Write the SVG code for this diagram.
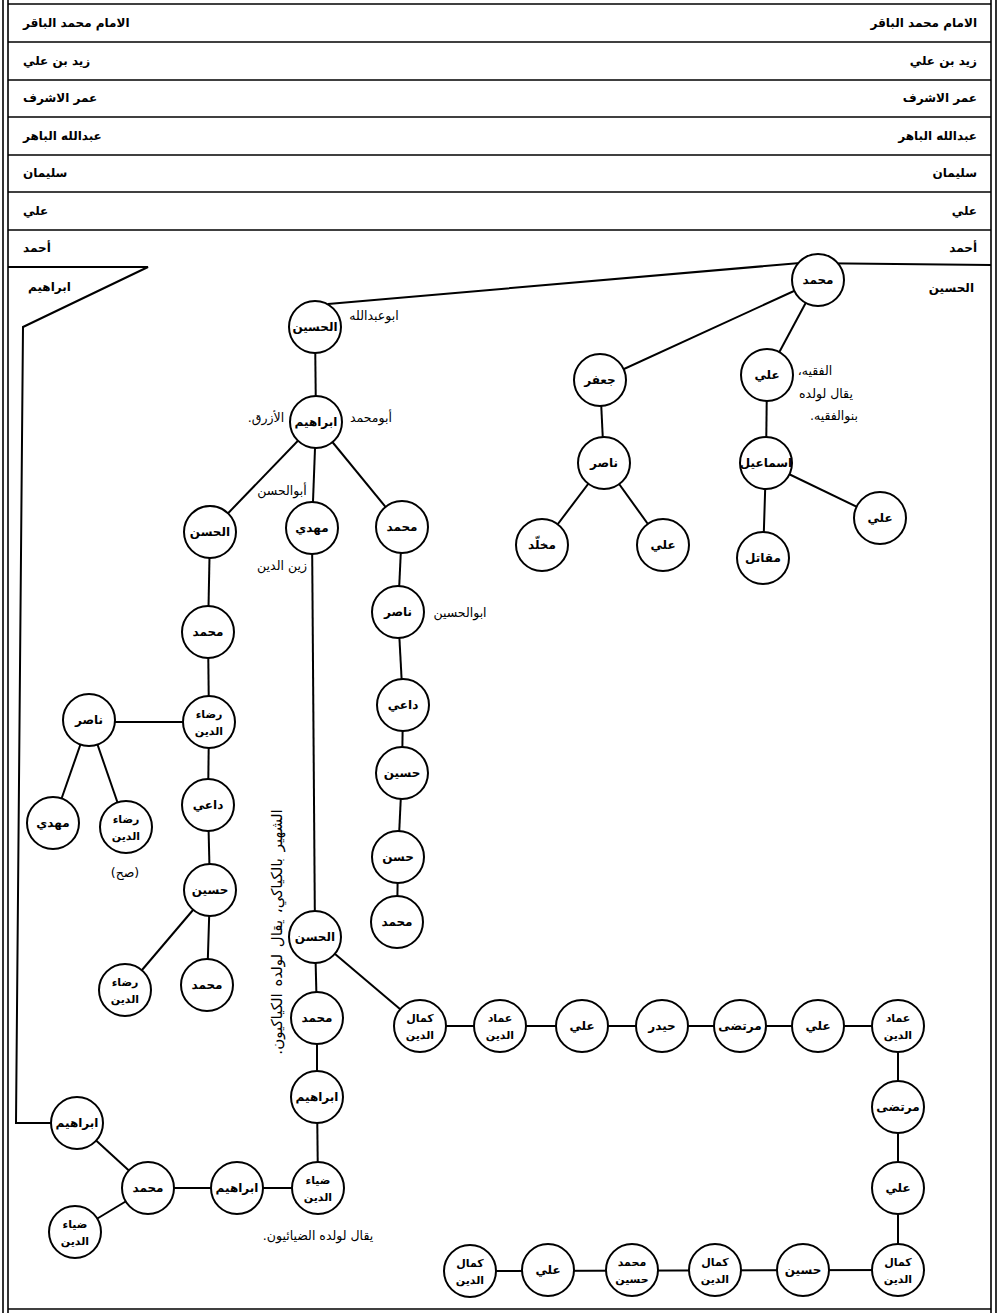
<svg xmlns="http://www.w3.org/2000/svg" width="999" height="1313" viewBox="0 0 999 1313">
<style>
.c{fill:#fff;stroke:#000;stroke-width:2}
.e{stroke:#000;stroke-width:2;fill:none}
.f{stroke:#000;stroke-width:1.6;fill:none}
.t{font-family:"DejaVu Sans",sans-serif;font-size:12px;font-weight:bold;text-anchor:middle;fill:#000}
.t2{font-family:"DejaVu Sans",sans-serif;font-size:11px;font-weight:bold;text-anchor:middle;fill:#000}
.h{font-family:"DejaVu Sans",sans-serif;font-size:12px;font-weight:bold;fill:#000}
.n{font-family:"DejaVu Sans",sans-serif;font-size:12.5px;fill:#000;text-anchor:middle;direction:rtl}
</style>
<rect width="999" height="1313" fill="#fff"/>
<g id="frame">
<line class="f" x1="3" y1="0" x2="3" y2="1313"/>
<line class="f" x1="8" y1="0" x2="8" y2="1313"/>
<line class="f" x1="991" y1="0" x2="991" y2="1313"/>
<line class="f" x1="996" y1="0" x2="996" y2="1313"/>
<line class="f" x1="8" y1="4" x2="991" y2="4"/>
<line class="f" x1="8" y1="42" x2="991" y2="42"/>
<line class="f" x1="8" y1="80" x2="991" y2="80"/>
<line class="f" x1="8" y1="117" x2="991" y2="117"/>
<line class="f" x1="8" y1="155" x2="991" y2="155"/>
<line class="f" x1="8" y1="192" x2="991" y2="192"/>
<line class="f" x1="8" y1="230" x2="991" y2="230"/>
<line class="f" x1="8" y1="1309" x2="991" y2="1309"/>
</g>
<g id="rows">
<text class="h" x="23" y="27">الامام محمد الباقر</text>
<text class="h" x="977" y="27" text-anchor="end">الامام محمد الباقر</text>
<text class="h" x="23" y="65">زيد بن علي</text>
<text class="h" x="977" y="65" text-anchor="end">زيد بن علي</text>
<text class="h" x="23" y="102">عمر الاشرف</text>
<text class="h" x="977" y="102" text-anchor="end">عمر الاشرف</text>
<text class="h" x="23" y="140">عبدالله الباهر</text>
<text class="h" x="977" y="140" text-anchor="end">عبدالله الباهر</text>
<text class="h" x="23" y="177">سليمان</text>
<text class="h" x="977" y="177" text-anchor="end">سليمان</text>
<text class="h" x="23" y="215">علي</text>
<text class="h" x="977" y="215" text-anchor="end">علي</text>
<text class="h" x="23" y="252">أحمد</text>
<text class="h" x="977" y="252" text-anchor="end">أحمد</text>
<text class="h" x="28" y="291">ابراهيم</text>
<text class="h" x="974" y="292" text-anchor="end">الحسين</text>
</g>
<g id="connectors">
<polyline class="e" points="991,265 800,263 328,304"/>
<polyline class="e" points="8,267 148,267 23,327 16,1123 77,1123"/>
<line class="e" x1="818" y1="280" x2="600" y2="380"/>
<line class="e" x1="818" y1="280" x2="767" y2="375"/>
<line class="e" x1="600" y1="380" x2="604" y2="463"/>
<line class="e" x1="767" y1="375" x2="766" y2="463"/>
<line class="e" x1="604" y1="463" x2="542" y2="545"/>
<line class="e" x1="604" y1="463" x2="663" y2="545"/>
<line class="e" x1="766" y1="463" x2="763" y2="558"/>
<line class="e" x1="766" y1="463" x2="880" y2="518"/>
<line class="e" x1="315" y1="327" x2="316" y2="422"/>
<line class="e" x1="316" y1="422" x2="210" y2="532"/>
<line class="e" x1="316" y1="422" x2="312" y2="528"/>
<line class="e" x1="316" y1="422" x2="402" y2="527"/>
<line class="e" x1="402" y1="527" x2="398" y2="612"/>
<line class="e" x1="398" y1="612" x2="403" y2="705"/>
<line class="e" x1="403" y1="705" x2="402" y2="773"/>
<line class="e" x1="402" y1="773" x2="398" y2="857"/>
<line class="e" x1="398" y1="857" x2="397" y2="922"/>
<line class="e" x1="210" y1="532" x2="208" y2="632"/>
<line class="e" x1="208" y1="632" x2="209" y2="722"/>
<line class="e" x1="209" y1="722" x2="89" y2="722"/>
<line class="e" x1="89" y1="720" x2="53" y2="823"/>
<line class="e" x1="89" y1="720" x2="126" y2="827"/>
<line class="e" x1="209" y1="722" x2="208" y2="805"/>
<line class="e" x1="208" y1="805" x2="210" y2="890"/>
<line class="e" x1="210" y1="890" x2="125" y2="990"/>
<line class="e" x1="210" y1="890" x2="207" y2="985"/>
<line class="e" x1="312" y1="528" x2="315" y2="937"/>
<line class="e" x1="315" y1="937" x2="317" y2="1018"/>
<line class="e" x1="317" y1="1018" x2="317" y2="1097"/>
<line class="e" x1="317" y1="1097" x2="318" y2="1188"/>
<line class="e" x1="318" y1="1188" x2="148" y2="1188"/>
<line class="e" x1="148" y1="1188" x2="77" y2="1123"/>
<line class="e" x1="148" y1="1188" x2="75" y2="1232"/>
<line class="e" x1="315" y1="937" x2="420" y2="1026"/>
<line class="e" x1="420" y1="1026" x2="898" y2="1026"/>
<line class="e" x1="898" y1="1026" x2="898" y2="1270"/>
<line class="e" x1="898" y1="1270" x2="470" y2="1271"/>
</g>
<g id="n-muhammad-top"><circle class="c" cx="818" cy="280" r="26"/><text class="t" x="818" y="284">محمد</text></g>
<g id="n-jafar"><circle class="c" cx="600" cy="380" r="26"/><text class="t" x="600" y="384">جعفر</text></g>
<g id="n-ali-faqih"><circle class="c" cx="767" cy="375" r="26"/><text class="t" x="767" y="379">علي</text></g>
<g id="n-nasir-1"><circle class="c" cx="604" cy="463" r="26"/><text class="t" x="604" y="467">ناصر</text></g>
<g id="n-ismail"><circle class="c" cx="766" cy="463" r="26"/><text class="t" x="766" y="467">اسماعيل</text></g>
<g id="n-ali-2"><circle class="c" cx="880" cy="518" r="26"/><text class="t" x="880" y="522">علي</text></g>
<g id="n-mukhallad"><circle class="c" cx="542" cy="545" r="26"/><text class="t" x="542" y="549">مخلّد</text></g>
<g id="n-ali-3"><circle class="c" cx="663" cy="545" r="26"/><text class="t" x="663" y="549">علي</text></g>
<g id="n-muqatil"><circle class="c" cx="763" cy="558" r="26"/><text class="t" x="763" y="562">مقاتل</text></g>

<g id="n-husayn-abuabdallah"><circle class="c" cx="315" cy="327" r="26"/><text class="t" x="315" y="331">الحسين</text></g>
<g id="n-ibrahim-azraq"><circle class="c" cx="316" cy="422" r="26"/><text class="t" x="316" y="426">ابراهيم</text></g>
<g id="n-hasan-1"><circle class="c" cx="210" cy="532" r="26"/><text class="t" x="210" y="536">الحسن</text></g>
<g id="n-mahdi-1"><circle class="c" cx="312" cy="528" r="26"/><text class="t" x="312" y="532">مهدي</text></g>
<g id="n-muhammad-2"><circle class="c" cx="402" cy="527" r="26"/><text class="t" x="402" y="531">محمد</text></g>
<g id="n-nasir-2"><circle class="c" cx="398" cy="612" r="26"/><text class="t" x="398" y="616">ناصر</text></g>
<g id="n-dai-1"><circle class="c" cx="403" cy="705" r="26"/><text class="t" x="403" y="709">داعي</text></g>
<g id="n-husayn-2"><circle class="c" cx="402" cy="773" r="26"/><text class="t" x="402" y="777">حسين</text></g>
<g id="n-hasan-2"><circle class="c" cx="398" cy="857" r="26"/><text class="t" x="398" y="861">حسن</text></g>
<g id="n-muhammad-3"><circle class="c" cx="397" cy="922" r="26"/><text class="t" x="397" y="926">محمد</text></g>

<g id="n-muhammad-4"><circle class="c" cx="208" cy="632" r="26"/><text class="t" x="208" y="636">محمد</text></g>
<g id="n-rida-1"><circle class="c" cx="209" cy="722" r="26"/><text class="t2" x="209" y="718">رضاء</text><text class="t2" x="209" y="735">الدين</text></g>
<g id="n-nasir-3"><circle class="c" cx="89" cy="720" r="26"/><text class="t" x="89" y="724">ناصر</text></g>
<g id="n-mahdi-2"><circle class="c" cx="53" cy="823" r="26"/><text class="t" x="53" y="827">مهدي</text></g>
<g id="n-rida-2"><circle class="c" cx="126" cy="827" r="26"/><text class="t2" x="126" y="823">رضاء</text><text class="t2" x="126" y="840">الدين</text></g>
<g id="n-dai-2"><circle class="c" cx="208" cy="805" r="26"/><text class="t" x="208" y="809">داعي</text></g>
<g id="n-husayn-3"><circle class="c" cx="210" cy="890" r="26"/><text class="t" x="210" y="894">حسين</text></g>
<g id="n-rida-3"><circle class="c" cx="125" cy="990" r="26"/><text class="t2" x="125" y="986">رضاء</text><text class="t2" x="125" y="1003">الدين</text></g>
<g id="n-muhammad-5"><circle class="c" cx="207" cy="985" r="26"/><text class="t" x="207" y="989">محمد</text></g>

<g id="n-hasan-3"><circle class="c" cx="315" cy="937" r="26"/><text class="t" x="315" y="941">الحسن</text></g>
<g id="n-muhammad-6"><circle class="c" cx="317" cy="1018" r="26"/><text class="t" x="317" y="1022">محمد</text></g>
<g id="n-ibrahim-2"><circle class="c" cx="317" cy="1097" r="26"/><text class="t" x="317" y="1101">ابراهيم</text></g>
<g id="n-diya-1"><circle class="c" cx="318" cy="1188" r="26"/><text class="t2" x="318" y="1184">ضياء</text><text class="t2" x="318" y="1201">الدين</text></g>
<g id="n-ibrahim-3"><circle class="c" cx="237" cy="1188" r="26"/><text class="t" x="237" y="1192">ابراهيم</text></g>
<g id="n-muhammad-7"><circle class="c" cx="148" cy="1188" r="26"/><text class="t" x="148" y="1192">محمد</text></g>
<g id="n-ibrahim-4"><circle class="c" cx="77" cy="1123" r="26"/><text class="t" x="77" y="1127">ابراهيم</text></g>
<g id="n-diya-2"><circle class="c" cx="75" cy="1232" r="26"/><text class="t2" x="75" y="1228">ضياء</text><text class="t2" x="75" y="1245">الدين</text></g>

<g id="n-kamal-1"><circle class="c" cx="420" cy="1026" r="26"/><text class="t2" x="420" y="1022">كمال</text><text class="t2" x="420" y="1039">الدين</text></g>
<g id="n-imad-1"><circle class="c" cx="500" cy="1026" r="26"/><text class="t2" x="500" y="1022">عماد</text><text class="t2" x="500" y="1039">الدين</text></g>
<g id="n-ali-4"><circle class="c" cx="582" cy="1026" r="26"/><text class="t" x="582" y="1030">علي</text></g>
<g id="n-haydar"><circle class="c" cx="662" cy="1026" r="26"/><text class="t" x="662" y="1030">حيدر</text></g>
<g id="n-murtada-1"><circle class="c" cx="740" cy="1026" r="26"/><text class="t" x="740" y="1030">مرتضى</text></g>
<g id="n-ali-5"><circle class="c" cx="818" cy="1026" r="26"/><text class="t" x="818" y="1030">علي</text></g>
<g id="n-imad-2"><circle class="c" cx="898" cy="1026" r="26"/><text class="t2" x="898" y="1022">عماد</text><text class="t2" x="898" y="1039">الدين</text></g>
<g id="n-murtada-2"><circle class="c" cx="898" cy="1107" r="26"/><text class="t" x="898" y="1111">مرتضى</text></g>
<g id="n-ali-6"><circle class="c" cx="898" cy="1188" r="26"/><text class="t" x="898" y="1192">علي</text></g>
<g id="n-kamal-2"><circle class="c" cx="898" cy="1270" r="26"/><text class="t2" x="898" y="1266">كمال</text><text class="t2" x="898" y="1283">الدين</text></g>
<g id="n-husayn-4"><circle class="c" cx="803" cy="1270" r="26"/><text class="t" x="803" y="1274">حسين</text></g>
<g id="n-kamal-3"><circle class="c" cx="715" cy="1270" r="26"/><text class="t2" x="715" y="1266">كمال</text><text class="t2" x="715" y="1283">الدين</text></g>
<g id="n-muhammad-husayn"><circle class="c" cx="632" cy="1270" r="26"/><text class="t2" x="632" y="1266">محمد</text><text class="t2" x="632" y="1283">حسين</text></g>
<g id="n-ali-7"><circle class="c" cx="548" cy="1270" r="26"/><text class="t" x="548" y="1274">علي</text></g>
<g id="n-kamal-4"><circle class="c" cx="470" cy="1271" r="26"/><text class="t2" x="470" y="1267">كمال</text><text class="t2" x="470" y="1284">الدين</text></g>

<g id="notes">
<text class="n" x="374" y="320">ابوعبدالله</text>
<text class="n" x="371" y="422">أبومحمد</text>
<text class="n" x="266" y="422">الأزرق.</text>
<text class="n" x="282" y="495">أبوالحسن</text>
<text class="n" x="282" y="570">زين الدين</text>
<text class="n" x="460" y="617">ابوالحسين</text>
<text class="n" x="815" y="375">الفقيه،</text>
<text class="n" x="826" y="398">يقال لولده</text>
<text class="n" x="834" y="420">بنوالفقيه.</text>
<text class="n" x="125" y="877">(صح)</text>
<text class="n" x="318" y="1240">يقال لولده الضيائيون.</text>
<text class="n" transform="translate(282,932) rotate(-90)" style="font-size:15px;word-spacing:2px">الشهير بالكياكي، يقال لولده الكياكيون.</text>
</g>
</svg>
